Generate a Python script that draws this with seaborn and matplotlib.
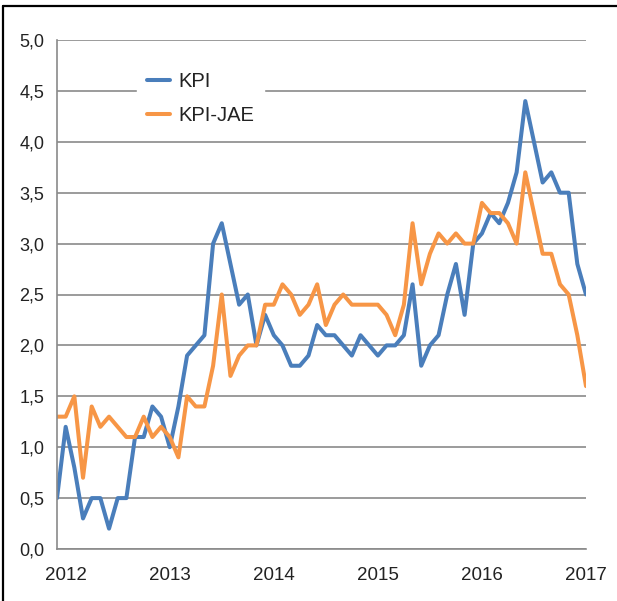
import numpy as np
import pandas as pd
import matplotlib
matplotlib.use("Agg")
import matplotlib.pyplot as plt
from matplotlib.lines import Line2D
import seaborn as sns

# monthly observations, Dec 2011 .. Jan 2017
months = pd.date_range("2011-12-01", periods=62, freq="MS")
kpi = [0.5, 1.2, 0.8, 0.3, 0.5, 0.5, 0.2, 0.5, 0.5, 1.1, 1.1, 1.4, 1.3, 1.0, 1.4, 1.9,
       2.0, 2.1, 3.0, 3.2, 2.8, 2.4, 2.5, 2.0, 2.3, 2.1, 2.0, 1.8, 1.8, 1.9, 2.2, 2.1,
       2.1, 2.0, 1.9, 2.1, 2.0, 1.9, 2.0, 2.0, 2.1, 2.6, 1.8, 2.0, 2.1, 2.5, 2.8, 2.3,
       3.0, 3.1, 3.3, 3.2, 3.4, 3.7, 4.4, 4.0, 3.6, 3.7, 3.5, 3.5, 2.8, 2.5]
kpi_jae = [1.3, 1.3, 1.5, 0.7, 1.4, 1.2, 1.3, 1.2, 1.1, 1.1, 1.3, 1.1, 1.2, 1.1, 0.9, 1.5,
           1.4, 1.4, 1.8, 2.5, 1.7, 1.9, 2.0, 2.0, 2.4, 2.4, 2.6, 2.5, 2.3, 2.4, 2.6, 2.2,
           2.4, 2.5, 2.4, 2.4, 2.4, 2.4, 2.3, 2.1, 2.4, 3.2, 2.6, 2.9, 3.1, 3.0, 3.1, 3.0,
           3.0, 3.4, 3.3, 3.3, 3.2, 3.0, 3.7, 3.3, 2.9, 2.9, 2.6, 2.5, 2.1, 1.6]
series_names = ["KPI", "KPI-JAE"]
year_labels = ["2012", "2013", "2014", "2015", "2016", "2017"]
y_ticks = [0.0, 0.5, 1.0, 1.5, 2.0, 2.5, 3.0, 3.5, 4.0, 4.5, 5.0]

BLUE = "#4a7ebb"
ORANGE = "#f79646"
GRID = "#8a8a8a"

pos = np.arange(len(months))
df = pd.DataFrame({
    "pos": np.concatenate([pos, pos]),
    "value": kpi + kpi_jae,
    "series": [series_names[0]] * len(kpi) + [series_names[1]] * len(kpi_jae),
})

sns.set_theme(style="white")
plt.rcParams["font.family"] = ["Liberation Sans", "DejaVu Sans"]

W, H = 617, 601
fig = plt.figure(figsize=(W / 100, H / 100), dpi=100)
ax = fig.add_axes([57 / W, 52 / H, 529 / W, 509 / H])

sns.lineplot(data=df, x="pos", y="value", hue="series", palette=[BLUE, ORANGE],
             linewidth=2.9, ax=ax, legend=True)

ax.set_xlim(pos[0], pos[-1])
ax.set_ylim(0, 5)
ax.set_xlabel("")
ax.set_ylabel("")

ax.set_yticks(y_ticks)
ax.set_yticklabels([f"{v:.1f}".replace(".", ",") for v in y_ticks])
ax.yaxis.grid(True, color=GRID, linewidth=1.2)
ax.set_axisbelow(True)

# January of each year gets the label
jan_pos = [p for p, m in zip(pos, months) if m.month == 1]
ax.set_xticks(jan_pos)
ax.set_xticklabels(year_labels)
ax.set_xticks(pos, minor=True)
ax.tick_params(axis="x", which="major", length=0, pad=13, labelsize=13.5, colors="#222222")
ax.tick_params(axis="x", which="minor", direction="in", length=4, width=1, color=GRID)
ax.tick_params(axis="y", length=0, pad=9, labelsize=13, colors="#222222")

for s in ["top", "right"]:
    ax.spines[s].set_visible(False)
for s in ["left", "bottom"]:
    ax.spines[s].set_color(GRID)
    ax.spines[s].set_linewidth(1.2)

handles, labels = ax.get_legend_handles_labels()
leg = ax.legend(handles, labels, loc="upper left",
                bbox_to_anchor=(137 / W, 1 - 62 / H), bbox_transform=fig.transFigure,
                borderaxespad=0, fontsize=14.5, handlelength=1.15, handletextpad=0.4,
                labelspacing=0.74, borderpad=0.5, frameon=True, fancybox=False,
                facecolor="white", edgecolor="white", framealpha=1)
for line in leg.get_lines():
    line.set_linewidth(2.9)
for t in leg.get_texts():
    t.set_color("#222222")

# outer frame lines (top and left)
fig.add_artist(Line2D([3 / W, 1], [1 - 6 / H, 1 - 6 / H], transform=fig.transFigure,
                      color="black", linewidth=1.6))
fig.add_artist(Line2D([3 / W, 3 / W], [0, 1 - 6 / H], transform=fig.transFigure,
                      color="black", linewidth=1.6))

fig.savefig("out.png", dpi=100)
